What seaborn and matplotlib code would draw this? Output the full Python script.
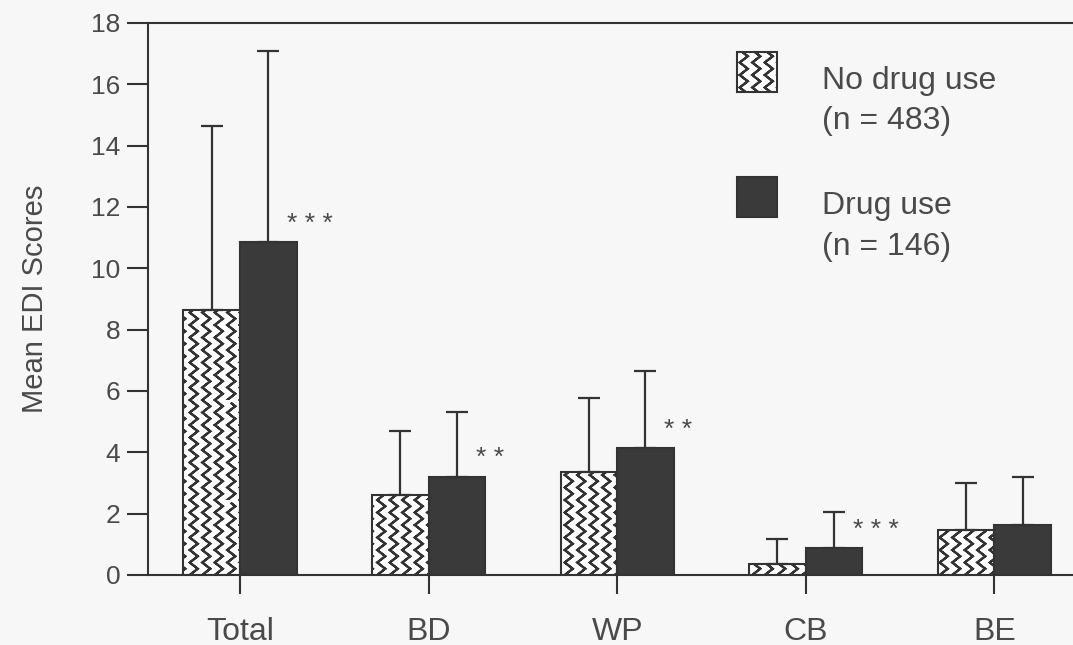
import numpy as np
import pandas as pd
import matplotlib
matplotlib.use('Agg')
import matplotlib.pyplot as plt
import matplotlib.hatch as mhatch
from matplotlib.path import Path
from matplotlib.patches import Patch, Rectangle
from matplotlib.legend_handler import HandlerPatch
import seaborn as sns

# ---------------- data ----------------
categories = ['Total', 'BD', 'WP', 'CB', 'BE']
groups = ['No drug use', 'Drug use']
group_n = [483, 146]
no_drug_mean = [8.63, 2.61, 3.37, 0.36, 1.46]
no_drug_sd = [6.0, 2.1, 2.4, 0.8, 1.55]
drug_mean = [10.85, 3.2, 4.14, 0.87, 1.63]
drug_sd = [6.25, 2.13, 2.52, 1.17, 1.58]
significance = ['***', '**', '**', '***', '']
y_ticks = [0, 2, 4, 6, 8, 10, 12, 14, 16, 18]
y_label = 'Mean EDI Scores'


# ---------------- zig-zag hatch ----------------
class ZigZagHatch(mhatch.HatchPatternBase):
    """Vertical zig-zag lines (used for the 'o' hatch character).
    Each zig-zag is traced forward and back so that it encloses no area."""

    def __init__(self, hatch, density):
        self.num_cols = int(hatch.count('o') * density * 4 / 3)
        self.num_zigs = self.num_cols
        k = 2 * self.num_zigs + 1
        self.per_col = 2 * k - 1
        self.num_vertices = self.num_cols * self.per_col

    def set_vertices_and_codes(self, vertices, codes):
        n, m = self.num_cols, self.num_zigs
        amp = 0.32 / n
        k = 2 * m + 1
        ys = np.linspace(0, 1, k)
        idx = np.arange(k)
        pc = self.per_col
        for i in range(n):
            xc = (i + 0.5) / n
            xs = np.where(idx % 2 == 0, xc - amp, xc + amp)
            fx = np.concatenate([xs, xs[-2::-1]])
            fy = np.concatenate([ys, ys[-2::-1]])
            vertices[i * pc:(i + 1) * pc, 0] = fx
            vertices[i * pc:(i + 1) * pc, 1] = fy
            codes[i * pc] = Path.MOVETO
            codes[i * pc + 1:(i + 1) * pc] = Path.LINETO


mhatch._hatch_types = [t for t in mhatch._hatch_types
                       if t is not mhatch.SmallCircles] + [ZigZagHatch]

# ---------------- style ----------------
sns.set_style('white')
plt.rcParams['font.family'] = ['Liberation Sans', 'DejaVu Sans']
plt.rcParams['hatch.linewidth'] = 1.6

bg = '#f7f7f7'
line_c = '#333333'
text_c = '#4a4a4a'
drug_c = '#3a3a3a'

df = pd.DataFrame({
    'Scale': categories * 2,
    'Group': [groups[0]] * len(categories) + [groups[1]] * len(categories),
    'Mean': no_drug_mean + drug_mean,
})
sds = [no_drug_sd, drug_sd]

fig = plt.figure(figsize=(10.73, 6.45), dpi=100, facecolor=bg)
ax = fig.add_axes([148 / 1073, 70 / 645, 925 / 1073, 552 / 645])
ax.set_facecolor(bg)

sns.barplot(data=df, x='Scale', y='Mean', hue='Group', order=categories,
            hue_order=groups, palette={groups[0]: 'white', groups[1]: drug_c},
            width=0.6, errorbar=None, edgecolor=line_c, linewidth=1.5,
            legend=False, saturation=1, ax=ax)

for patch in ax.containers[0]:
    patch.set_hatch('o')

# error bars (upper only)
for cont, sd in zip(ax.containers, sds):
    xs = [p.get_x() + p.get_width() / 2 for p in cont]
    hs = [p.get_height() for p in cont]
    ax.errorbar(xs, hs, yerr=[np.zeros(len(sd)), sd], fmt='none',
                ecolor=line_c, elinewidth=1.6, capsize=8, capthick=1.6,
                zorder=1)

# significance stars
for p, s in zip(ax.containers[1], significance):
    if s:
        ax.text(p.get_x() + p.get_width() / 2 + 0.1, p.get_height() + 0.6,
                ' '.join(s), ha='left', va='center', fontsize=19,
                color=text_c)

ax.set_ylim(0, 18)
ax.set_xlim(-0.488, 4.417)
ax.set_yticks(y_ticks)
ax.set_xlabel('')
ax.set_ylabel(y_label, fontsize=21, color=text_c, labelpad=30)

for side in ['left', 'bottom', 'top']:
    ax.spines[side].set_visible(True)
    ax.spines[side].set_color(line_c)
    ax.spines[side].set_linewidth(1.5)
ax.spines['right'].set_visible(False)

ax.tick_params(axis='y', direction='out', length=15, width=1.5, color=line_c,
               labelsize=19, labelcolor=text_c, pad=5, left=True)
ax.tick_params(axis='x', direction='out', length=14, width=1.5, color=line_c,
               labelsize=23, labelcolor=text_c, pad=16, bottom=True)

# legend
handles = [Patch(facecolor='white', edgecolor=line_c, hatch='o', linewidth=1.5),
           Patch(facecolor=drug_c, edgecolor=line_c, linewidth=1.5)]
labels = [f'{g}\n(n = {n})' for g, n in zip(groups, group_n)]


def shifted_rect(legend, orig_handle, xdescent, ydescent, width, height,
                 fontsize):
    return Rectangle((-xdescent, -ydescent + 0.95 * fontsize), width, height)


leg = ax.legend(handles, labels, loc='upper left',
                bbox_to_anchor=(737 / 1073, 1 - 66 / 645),
                bbox_transform=fig.transFigure, frameon=False, fontsize=23,
                handlelength=1.25, handleheight=1.55, handletextpad=1.4,
                labelspacing=1.72, borderpad=0, borderaxespad=0,
                handler_map={Patch: HandlerPatch(patch_func=shifted_rect)})
for t in leg.get_texts():
    t.set_color(text_c)
    t.set_linespacing(1.45)

fig.savefig('out.png', dpi=100, facecolor=bg)
